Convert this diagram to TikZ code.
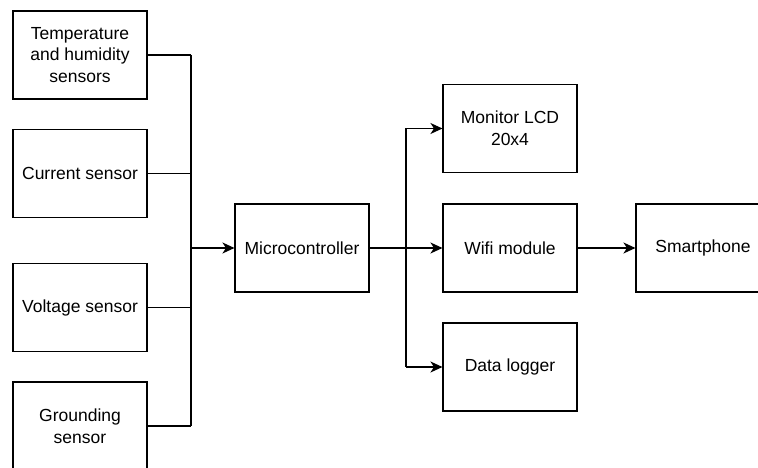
\documentclass[tikz,border=0pt]{standalone}
\usepackage{fontspec}
\setmainfont{Liberation Sans}
\usetikzlibrary{arrows.meta}

\tikzset{
	blockbox/.style={draw, line width=1.1pt, minimum width=134pt, minimum height=88pt, align=center, inner sep=2pt},
	wire/.style={line width=1.2pt},
	feed/.style={wire, -{Stealth[length=12pt, width=11pt, inset=3.5pt]}}
}

\begin{document}
\begin{tikzpicture}[x=1pt, y=-1pt, every node/.style={font=\fontsize{17.5}{21.7}\selectfont}]
	\useasboundingbox (0,0) rectangle (758,468);
	% sensors
	\node[blockbox] (temp) at (80,55) {Temperature\\and humidity\\sensors};
	\node[blockbox] (curr) at (80,173.5) {Current sensor};
	\node[blockbox] (volt) at (80,307.5) {Voltage sensor};
	\node[blockbox] (grnd) at (80,426) {Grounding\\sensor};
	% processing and outputs
	\node[blockbox] (micro) at (302,248) {Microcontroller};
	\node[blockbox] (lcd) at (510,128.5) {Monitor LCD\\20x4};
	\node[blockbox] (wifi) at (510,248) {Wifi module};
	\node[blockbox] (logger) at (510,367) {Data logger};
	\node[blockbox] (phone) at (703,248) {Smartphone};
	\coordinate (busin) at (191,0);
	\coordinate (busout) at (406,0);
	% sensor bus
	\foreach \s in {temp, curr, volt, grnd} {
		\draw[wire] (\s.east) -- (\s.east -| busin);
	}
	\draw[wire] (temp.east -| busin) -- (grnd.east -| busin);
	\draw[feed] (micro.west -| busin) -- (micro.west);
	% output bus
	\draw[wire] (lcd.west -| busout) -- (logger.west -| busout);
	\draw[feed] (micro.east) -- (wifi.west);
	\draw[feed] (lcd.west -| busout) -- (lcd.west);
	\draw[feed] (logger.west -| busout) -- (logger.west);
	\draw[feed] (wifi.east) -- (phone.west);
\end{tikzpicture}
\end{document}
